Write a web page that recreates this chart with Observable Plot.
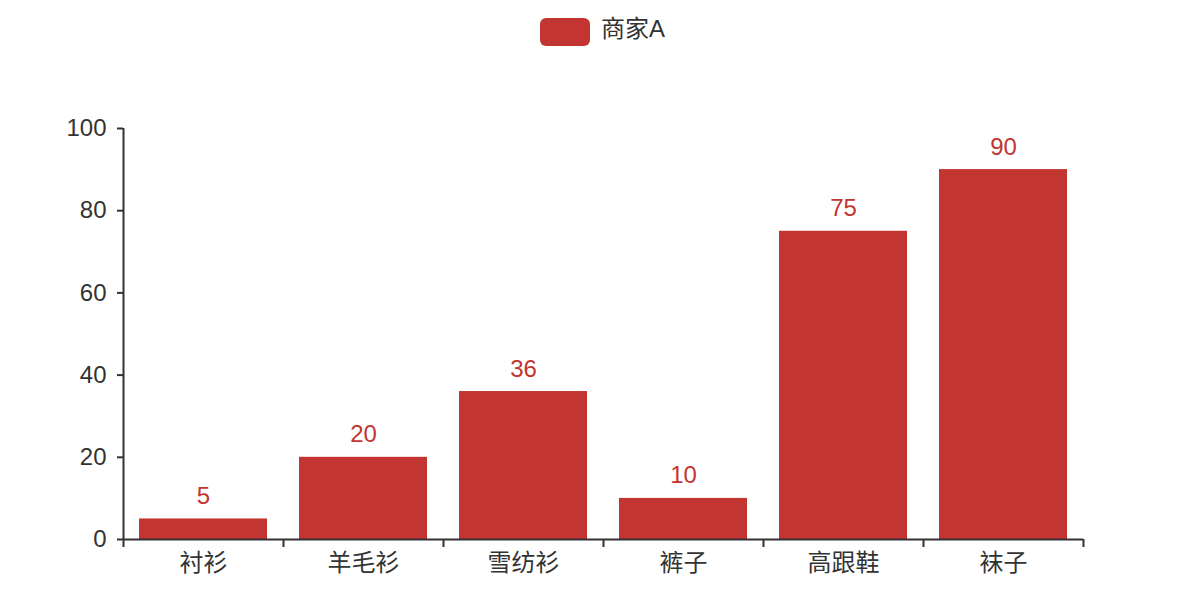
<!DOCTYPE html>
<html>
<head>
<meta charset="utf-8">
<script src="https://cdn.jsdelivr.net/npm/d3@7"></script>
<script src="https://cdn.jsdelivr.net/npm/@observablehq/plot@0.6"></script>
<style>
  html, body { margin: 0; padding: 0; background: #fff; }
  body { width: 1198px; height: 606px; position: relative; overflow: hidden;
         font-family: "Liberation Sans", "Noto Sans CJK SC", sans-serif; }
  #legend { position: absolute; left: 540px; top: 18px; height: 28px; display: flex; align-items: center; gap: 11px;
            font-size: 24px; line-height: 28px; color: #333; }
  #legend .sw { width: 50px; height: 28px; border-radius: 6px; background: #c23531; }
  #legend span { position: relative; top: -3px; }
  #chart { position: absolute; left: 0; top: 60px; }
</style>
</head>
<body>
<div id="legend"><div class="sw"></div><span>商家A</span></div>
<div id="chart"></div>
<script>
const seriesName = "商家A";
const categories = ["衬衫", "羊毛衫", "雪纺衫", "裤子", "高跟鞋", "袜子"];
const values = [5, 20, 36, 10, 75, 90];
const yTicks = [0, 20, 40, 60, 80, 100];

const data = categories.map((c, i) => ({category: c, value: values[i], i}));
const color = "#c23531";
const ink = "#333";

const chart = Plot.plot({
  width: 1198,
  height: 546,
  marginLeft: 123,
  marginRight: 115,
  marginTop: 68,
  marginBottom: 67,
  style: {fontFamily: '"Liberation Sans", "Noto Sans CJK SC", sans-serif', fontSize: "24px", color: ink, background: "transparent"},
  x: {domain: [0, categories.length], label: null},
  y: {domain: [0, 100], label: null},
  marks: [
    Plot.rectY(data, {x1: d => d.i + 0.1, x2: d => d.i + 0.9, y: "value", fill: color, inset: 0}),
    Plot.axisY({ticks: yTicks, tickSize: 6, tickPadding: 11, stroke: ink, fill: ink, strokeWidth: 2, fontSize: 24, label: null}),
    Plot.axisX({ticks: d3.range(categories.length + 1), tickFormat: () => "", tickSize: 8, stroke: ink, strokeWidth: 2, label: null}),
    Plot.ruleX([0], {y1: 0, y2: 100, stroke: ink, strokeWidth: 2}),
    Plot.ruleY([0], {stroke: ink, strokeWidth: 2}),
    Plot.text(data, {x: d => d.i + 0.5, y: "value", text: d => String(d.value), fill: color, fontSize: 24, lineAnchor: "bottom", dy: -15}),
    Plot.text(data, {x: d => d.i + 0.5, y: 0, text: "category", fill: ink, fontSize: 24, lineAnchor: "top", dy: 14})
  ]
});
document.getElementById("chart").appendChild(chart);
</script>
</body>
</html>
